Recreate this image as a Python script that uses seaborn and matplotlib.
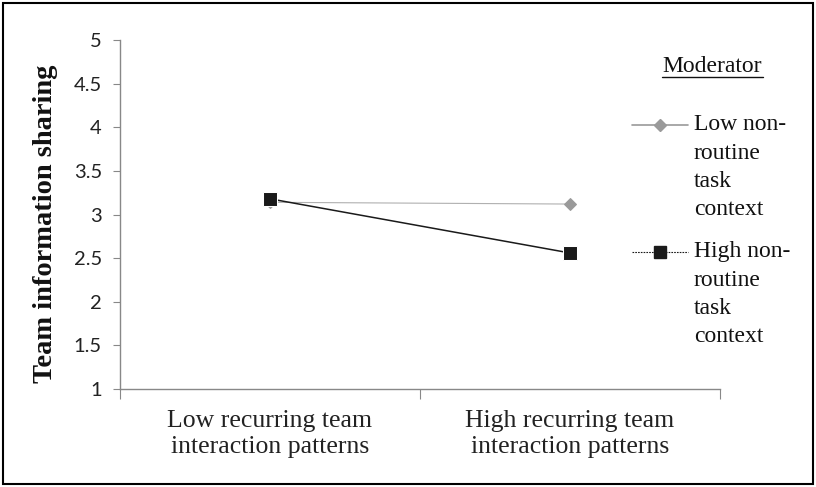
import matplotlib
matplotlib.use("Agg")
import matplotlib.pyplot as plt
from matplotlib.lines import Line2D
from matplotlib.patches import Rectangle
import pandas as pd
import seaborn as sns

patterns = ["Low recurring team\ninteraction patterns", "High recurring team\ninteraction patterns"]
low_context = [3.14, 3.12]
high_context = [3.18, 2.56]
moderators = ["Low non-\nroutine\ntask\ncontext", "High non-\nroutine\ntask\ncontext"]
y_ticks = [1, 1.5, 2, 2.5, 3, 3.5, 4, 4.5, 5]

df = pd.DataFrame({
    "pattern": patterns * 2,
    "sharing": low_context + high_context,
    "moderator": [moderators[0]] * 2 + [moderators[1]] * 2,
})

sns.set_style("white")
plt.rcParams["font.family"] = "serif"
plt.rcParams["font.serif"] = ["Liberation Serif", "DejaVu Serif"]

GREY = "#9a9a9a"
BLACK = "#1a1a1a"

fig = plt.figure(figsize=(8.16, 4.87), dpi=100)
ax = fig.add_axes([0.147, 0.201, 0.735, 0.717])

sns.lineplot(
    data=df, x="pattern", y="sharing", hue="moderator", style="moderator",
    palette={moderators[0]: GREY, moderators[1]: BLACK},
    markers={moderators[0]: "D", moderators[1]: "s"},
    dashes=False, legend=False, ax=ax, sort=False,
)
ax.lines[0].set_linewidth(0.8)
ax.lines[0].set_color("#b0b0b0")
ax.lines[0].set_markerfacecolor(GREY)
ax.lines[0].set_markeredgecolor(GREY)
ax.lines[0].set_markersize(6.5)
ax.lines[1].set_linewidth(1.1)
ax.lines[1].set_markersize(10)

ax.set_ylim(1, 5)
ax.set_xlim(-0.5, 1.5)
ax.set_yticks(y_ticks)
ax.set_yticklabels([f"{t:g}" for t in y_ticks], fontfamily="Lato", fontsize=14.5, color="#222222")
ax.set_xticks([-0.5, 0.5, 1.5])
ax.set_xticklabels([])
ax.set_xticks([0, 1], minor=True)
ax.set_xticklabels(patterns, minor=True, fontsize=18.5, color="#222222", linespacing=1.25)
ax.tick_params(axis="x", which="major", length=7, color="#888888", direction="out", bottom=True)
ax.tick_params(axis="x", which="minor", length=0, pad=15, bottom=True)
ax.tick_params(axis="y", length=5, color="#888888", direction="out", pad=8, left=True)

for s in ["top", "right"]:
    ax.spines[s].set_visible(False)
for s in ["left", "bottom"]:
    ax.spines[s].set_color("#888888")
    ax.spines[s].set_linewidth(1)

ax.set_xlabel("")
ax.set_ylabel("Team information sharing", fontweight="bold", fontsize=20.5, color="#111111")
ax.yaxis.set_label_coords(-0.103, 0.473)

# legend drawn by hand (figure pixel positions)
W, H = 816, 487
def fx(px):
    return px / W
def fy(py):
    return 1 - py / H

fig.text(fx(712), fy(66), "Moderator", fontsize=17, ha="center", va="center", color="#111111")
fig.add_artist(Line2D([fx(662), fx(763)], [fy(77), fy(77)], transform=fig.transFigure,
                      color="#111111", lw=1))

entries = [
    (moderators[0], 125, GREY, "D", 6.5, "-", 1.2),
    (moderators[1], 252, BLACK, "s", 9, (0, (1.5, 1)), 0.8),
]
for label, py, col, mk, ms, ls, lw in entries:
    fig.add_artist(Line2D([fx(632), fx(688)], [fy(py), fy(py)], transform=fig.transFigure,
                          color=col, lw=lw, ls=ls))
    fig.add_artist(Line2D([fx(660)], [fy(py)], transform=fig.transFigure,
                          color=col, marker=mk, markersize=ms, ls="none"))
    for i, line in enumerate(label.split("\n")):
        fig.text(fx(694), fy(py + 28.3 * i), line, fontsize=17, ha="left",
                 va="center", color="#111111")

fig.add_artist(Rectangle((0.004, 0.006), 0.992, 0.988, transform=fig.transFigure,
                         fill=False, edgecolor="black", lw=1.5))

fig.savefig("out.png", dpi=100)
